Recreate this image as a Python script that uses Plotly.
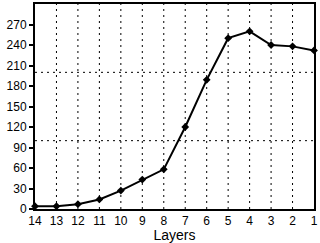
import plotly.graph_objects as go

layers = [14, 13, 12, 11, 10, 9, 8, 7, 6, 5, 4, 3, 2, 1]
values = [4, 4, 7, 14, 27, 43, 58, 120, 189, 250, 260, 240, 238, 232]
y_ticks = [0, 30, 60, 90, 120, 150, 180, 210, 240, 270]
h_grid = [100, 200]

fig = go.Figure()
fig.add_trace(go.Scatter(x=layers, y=values, mode="lines+markers",
                         line=dict(color="black", width=2),
                         marker=dict(color="black", size=6, symbol="diamond"),
                         cliponaxis=False))
for g in h_grid:
    fig.add_shape(type="line", xref="paper", x0=0, x1=1, yref="y", y0=g, y1=g,
                  line=dict(color="black", width=1, dash="2px,4px"), layer="below")
for v in layers[1:-1]:
    fig.add_shape(type="line", xref="x", x0=v, x1=v, yref="paper", y0=0, y1=1,
                  line=dict(color="black", width=1, dash="2px,4px"), layer="below")

fig.update_layout(
    width=320, height=243, margin=dict(l=35, r=4, t=2, b=33),
    paper_bgcolor="white", plot_bgcolor="white", showlegend=False,
    font=dict(family="Liberation Sans, Arial", size=12, color="black"),
)
fig.update_xaxes(range=[14, 1], tickmode="array", tickvals=layers,
                 ticktext=[str(v) for v in layers], showgrid=False, zeroline=False,
                 showline=True, linecolor="black", linewidth=2, mirror=True,
                 ticks="", ticklabelstandoff=0, title=dict(text="Layers", standoff=3))
fig.update_yaxes(range=[0, 300], tickmode="array", tickvals=y_ticks,
                 showgrid=False, zeroline=False, showline=True, linecolor="black",
                 linewidth=2, mirror=True, ticks="outside", ticklen=4, tickwidth=2,
                 tickcolor="black")
fig.write_html("out.html", config={"displayModeBar": False},
               post_script="document.body.style.margin='0';document.body.style.overflow='hidden';")
